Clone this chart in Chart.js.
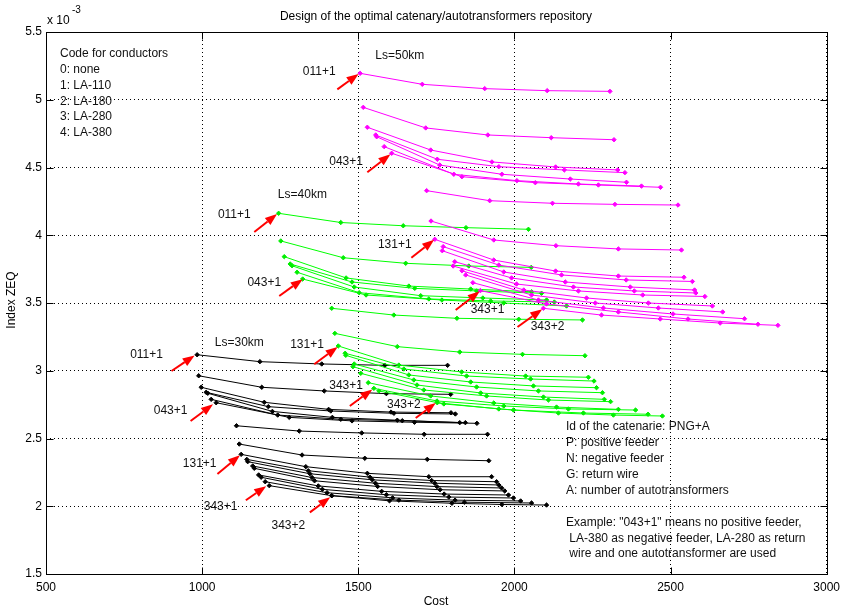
<!DOCTYPE html>
<html><head><meta charset="utf-8">
<script src="https://cdn.jsdelivr.net/npm/chart.js@4.4.0/dist/chart.umd.min.js"></script>
<style>html,body{margin:0;padding:0;background:#fff;}#wrap{width:846px;height:610px;}</style>
</head><body><div id="wrap"><canvas id="c" width="846" height="610"></canvas></div>
<script>
// ---------- DATA (Index ZEQ in units of 1e-3) ----------
const xTickValues = [500, 1000, 1500, 2000, 2500, 3000];
const yTickValues = [1.5, 2, 2.5, 3, 3.5, 4, 4.5, 5, 5.5];

// Ls = 30 km (black)
const cost30 = [
  [984,1185,1383,1585,1786],
  [989,1191,1391,1590,1796],
  [997,1199,1405,1605,1797],
  [1013,1212,1412,1614,1811],
  [1018,1225,1417,1625,1825],
  [1029,1242,1444,1641,1843],
  [1045,1279,1480,1680,1880],
  [1110,1311,1511,1711,1914],
  [1119,1320,1521,1721,1918],
  [1125,1332,1529,1726,1927],
  [1143,1340,1537,1735,1943],
  [1146,1345,1545,1745,1950],
  [1162,1352,1555,1752,1959],
  [1167,1360,1562,1762,1969],
  [1181,1372,1575,1775,1981],
  [1189,1385,1590,1790,1997],
  [1202,1400,1610,1810,2020],
  [1215,1415,1630,1840,2055],
  [1415,1600,1800,1960,2103]
];
const zeq30 = [
  [3.118,3.067,3.050,3.040,3.040],
  [2.963,2.878,2.851,2.831,2.826],
  [2.878,2.767,2.715,2.695,2.690],
  [2.841,2.735,2.703,2.686,2.681],
  [2.834,2.700,2.656,2.635,2.617],
  [2.789,2.673,2.642,2.631,2.617],
  [2.764,2.656,2.630,2.620,2.612],
  [2.594,2.555,2.541,2.531,2.531],
  [2.459,2.378,2.354,2.346,2.336],
  [2.383,2.292,2.243,2.218,2.218],
  [2.346,2.262,2.215,2.190,2.181],
  [2.329,2.240,2.195,2.170,2.157],
  [2.297,2.212,2.170,2.145,2.135],
  [2.280,2.188,2.146,2.122,2.113],
  [2.231,2.150,2.110,2.090,2.083],
  [2.214,2.125,2.085,2.068,2.061],
  [2.181,2.100,2.062,2.045,2.039],
  [2.152,2.078,2.045,2.030,2.024],
  [2.078,2.040,2.022,2.013,2.009]
];

// Ls = 40 km (green)
const cost40 = [
  [1245,1444,1644,1845,2045],
  [1252,1452,1652,1854,2054],
  [1263,1461,1662,1860,2055],
  [1282,1480,1681,1879,2087],
  [1288,1487,1700,1899,2103],
  [1304,1503,1726,1924,2128],
  [1322,1525,1768,1966,2167],
  [1415,1614,1816,2014,2218],
  [1425,1625,1825,2026,2226],
  [1436,1630,1831,2036,2237],
  [1458,1646,1847,2052,2255],
  [1460,1662,1860,2061,2263],
  [1487,1678,1879,2077,2282],
  [1483,1688,1892,2093,2288],
  [1508,1710,1911,2109,2308],
  [1532,1732,1934,2135,2333],
  [1550,1752,1966,2173,2388],
  [1566,1774,1997,2221,2428],
  [1753,1950,2141,2317,2474]
];
const zeq40 = [
  [4.162,4.094,4.070,4.056,4.044],
  [3.958,3.834,3.793,3.773,3.763],
  [3.842,3.685,3.625,3.603,3.583],
  [3.788,3.655,3.608,3.589,3.572],
  [3.775,3.618,3.554,3.537,3.522],
  [3.727,3.576,3.530,3.515,3.507],
  [3.677,3.559,3.522,3.500,3.478],
  [3.461,3.411,3.387,3.380,3.375],
  [3.276,3.178,3.138,3.121,3.111],
  [3.183,3.042,2.991,2.961,2.952],
  [3.129,3.013,2.961,2.939,2.924],
  [3.114,2.969,2.917,2.888,2.875],
  [3.050,2.932,2.880,2.851,2.838],
  [3.030,2.895,2.836,2.806,2.789],
  [2.981,2.858,2.814,2.784,2.772],
  [2.912,2.814,2.762,2.732,2.715],
  [2.870,2.777,2.740,2.718,2.710],
  [2.851,2.755,2.710,2.688,2.679],
  [2.764,2.718,2.688,2.673,2.666]
];

// Ls = 50 km (magenta)
const cost50 = [
  [1506,1705,1905,2105,2306],
  [1516,1716,1915,2118,2319],
  [1529,1732,1928,2132,2331],
  [1556,1753,1950,2160,2354],
  [1559,1761,1960,2179,2359],
  [1583,1806,2008,2205,2407],
  [1607,1832,2067,2269,2468],
  [1719,1921,2122,2322,2524],
  [1733,1934,2133,2333,2535],
  [1745,1934,2132,2333,2543],
  [1772,1950,2151,2358,2570],
  [1769,1966,2163,2371,2577],
  [1809,1991,2189,2384,2581],
  [1804,2007,2205,2411,2610],
  [1832,2030,2231,2429,2634],
  [1844,2055,2259,2461,2667],
  [1867,2077,2285,2508,2737],
  [1891,2103,2333,2556,2780],
  [2093,2279,2467,2659,2844]
];
const zeq50 = [
  [5.195,5.114,5.082,5.067,5.062],
  [4.944,4.792,4.740,4.720,4.705],
  [4.797,4.629,4.541,4.504,4.482],
  [4.740,4.561,4.506,4.482,4.462],
  [4.727,4.518,4.450,4.415,4.391],
  [4.654,4.450,4.403,4.378,4.363],
  [4.605,4.432,4.388,4.371,4.354],
  [4.329,4.255,4.236,4.228,4.223],
  [4.105,3.965,3.923,3.899,3.891],
  [3.970,3.817,3.736,3.699,3.690],
  [3.916,3.780,3.707,3.670,3.659],
  [3.886,3.729,3.655,3.618,3.596],
  [3.805,3.685,3.618,3.589,3.574],
  [3.773,3.640,3.589,3.559,3.548],
  [3.738,3.596,3.537,3.500,3.478],
  [3.707,3.559,3.500,3.463,3.434],
  [3.650,3.522,3.463,3.419,3.384],
  [3.591,3.493,3.434,3.382,3.343],
  [3.461,3.411,3.382,3.352,3.335]
];

// Annotation texts (anchored in data units)
const noteText = ['Ls=30km','011+1','043+1','131+1','343+1','343+2',
                  'Ls=40km','011+1','043+1','131+1','343+1','343+2',
                  'Ls=50km','011+1','043+1','131+1','343+1','343+2'];
const noteCost = [1119,822,899,992,1059,1276, 1321,1103,1199,1336,1461,1646, 1633,1375,1461,1617,1914,2106];
const noteZeq  = [3.205,3.116,2.703,2.312,1.994,1.854, 4.297,4.150,3.648,3.190,2.887,2.747, 5.323,5.205,4.541,3.928,3.448,3.323];

// Red arrows: tail (cost, zeq) -> tip (cost, zeq)
const arrowTailCost = [902, 963, 1049, 1140, 1345, 1167, 1247, 1359, 1473, 1684, 1433, 1529, 1670, 1812, 2010];
const arrowTailZeq  = [2.998, 2.629, 2.238, 2.044, 1.955, 4.024, 3.552, 3.048, 2.740, 2.651, 5.077, 4.465, 3.834, 3.448, 3.323];
const arrowTipCost  = [976, 1035, 1121, 1205, 1410, 1240, 1322, 1434, 1545, 1748, 1501, 1603, 1743, 1889, 2089];
const arrowTipZeq   = [3.113, 2.752, 2.376, 2.148, 2.066, 4.156, 3.676, 3.176, 2.862, 2.762, 5.190, 4.597, 3.966, 3.586, 3.454];

const codeLines = ['Code for conductors','0: none','1: LA-110','2: LA-180','3: LA-280','4: LA-380'];
const infoLines = ['Id of the catenarie: PNG+A','P: positive feeder','N: negative feeder','G: return wire','A: number of autotransformers',
                   'Example: "043+1" means no positive feeder,',' LA-380 as negative feeder, LA-280 as return',' wire and one autotransformer are used'];

// ---------- BUILD ----------
const FONT = '"Liberation Sans", Arial, Helvetica, sans-serif';
const groups = [
  {cost: cost50, zeq: zeq50, line: '#ff00ff', mark: '#ff00ff'},
  {cost: cost40, zeq: zeq40, line: '#00ff00', mark: '#00ee00'},
  {cost: cost30, zeq: zeq30, line: '#000000', mark: '#000000'}
];
const datasets = [];
groups.forEach(g => {
  g.cost.forEach((cs, i) => {
    datasets.push({
      data: cs.map((c, j) => ({x: c, y: g.zeq[i][j]})),
      showLine: true, borderColor: g.line, borderWidth: 1,
      backgroundColor: g.mark, pointBackgroundColor: g.mark, pointBorderColor: g.mark,
      pointStyle: 'rectRot', pointRadius: 2.2, pointBorderWidth: 1, tension: 0, fill: false
    });
  });
});

function arrow(ctx, x1, y1, x2, y2) {
  const ang = Math.atan2(y2 - y1, x2 - x1), L = 12, W = 4.5;
  const bx = x2 - L * Math.cos(ang), by = y2 - L * Math.sin(ang);
  ctx.strokeStyle = '#ff0000'; ctx.lineWidth = 2;
  ctx.beginPath(); ctx.moveTo(x1, y1); ctx.lineTo(bx, by); ctx.stroke();
  ctx.fillStyle = '#ff0000';
  ctx.beginPath(); ctx.moveTo(x2, y2);
  ctx.lineTo(bx + W * Math.sin(ang), by - W * Math.cos(ang));
  ctx.lineTo(bx - W * Math.sin(ang), by + W * Math.cos(ang));
  ctx.closePath(); ctx.fill();
}

const overlay = {
  id: 'overlay',
  afterDatasetsDraw(chart) {
    const {ctx, chartArea: a, scales: {x, y}} = chart;
    ctx.save();
    const L = Math.round(a.left) + 0.5, R = Math.round(a.right) + 0.5, T = Math.round(a.top) + 0.5, B = Math.round(a.bottom) + 0.5;
    ctx.strokeStyle = '#000'; ctx.lineWidth = 1; ctx.setLineDash([]);
    ctx.strokeRect(L, T, R - L, B - T);
    ctx.beginPath();
    xTickValues.forEach(v => { const p = Math.round(x.getPixelForValue(v)) + 0.5; ctx.moveTo(p, B); ctx.lineTo(p, B - 7); ctx.moveTo(p, T); ctx.lineTo(p, T + 7); });
    yTickValues.forEach(v => { const p = Math.round(y.getPixelForValue(v)) + 0.5; ctx.moveTo(L, p); ctx.lineTo(L + 7, p); ctx.moveTo(R, p); ctx.lineTo(R - 7, p); });
    ctx.stroke();

    // texts
    ctx.fillStyle = '#111'; ctx.font = '12px ' + FONT; ctx.textBaseline = 'middle'; ctx.textAlign = 'center';
    noteText.forEach((t, i) => ctx.fillText(t, x.getPixelForValue(noteCost[i]), y.getPixelForValue(noteZeq[i])));
    ctx.textAlign = 'left';
    codeLines.forEach((t, i) => ctx.fillText(t, a.left + 14, a.top + 21.5 + i * 15.9));
    infoLines.forEach((t, i) => {
      const yy = i < 5 ? 426.7 + i * 16 : 522.7 + (i - 5) * 15.7;
      ctx.fillText(t, 566, yy);
    });

    // arrows
    arrowTailCost.forEach((c, i) => arrow(ctx, x.getPixelForValue(c), y.getPixelForValue(arrowTailZeq[i]),
                                           x.getPixelForValue(arrowTipCost[i]), y.getPixelForValue(arrowTipZeq[i])));

    // title, axis titles, exponent
    ctx.fillStyle = '#000'; ctx.textAlign = 'center';
    ctx.fillText('Design of the optimal catenary/autotransformers repository', 436, 17);
    ctx.fillText('Cost', 436, 602);
    ctx.save(); ctx.translate(12, 300); ctx.rotate(-Math.PI / 2); ctx.fillText('Index ZEQ', 0, 0); ctx.restore();
    ctx.textAlign = 'left';
    ctx.fillText('x 10', 47, 21);
    ctx.font = '10px ' + FONT;
    ctx.fillText('-3', 72, 10);
    ctx.restore();
  }
};

new Chart(document.getElementById('c'), {
  type: 'scatter',
  data: {datasets},
  options: {
    responsive: false, animation: false, devicePixelRatio: 1,
    layout: {padding: {top: 32, right: 17, left: 0, bottom: 0}},
    plugins: {legend: {display: false}, tooltip: {enabled: false}, title: {display: false}},
    scales: {
      x: {type: 'linear', min: 500, max: 3000,
          afterBuildTicks: s => { s.ticks = xTickValues.map(v => ({value: v})); },
          ticks: {color: '#000', font: {family: FONT, size: 12}, padding: 6, maxRotation: 0, autoSkip: false,
                  callback: v => String(v)},
          grid: {color: '#000', lineWidth: 1, drawTicks: false},
          border: {display: false, dash: [1, 3]},
          afterFit: s => { s.height = 36; }},
      y: {type: 'linear', min: 1.5, max: 5.5,
          afterBuildTicks: s => { s.ticks = yTickValues.map(v => ({value: v})); },
          ticks: {color: '#000', font: {family: FONT, size: 12}, padding: 4, autoSkip: false,
                  callback: v => String(v)},
          grid: {color: '#000', lineWidth: 1, drawTicks: false},
          border: {display: false, dash: [1, 3]},
          afterFit: s => { s.width = 46; }}
    }
  },
  plugins: [overlay]
});
</script></body></html>
